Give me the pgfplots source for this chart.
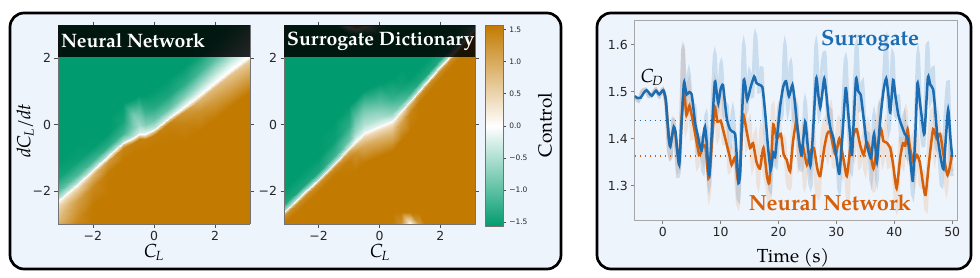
\documentclass[border=0pt]{standalone}
\usepackage{pgfplots}
\pgfplotsset{compat=1.18}
\usepackage{fontspec}
\setmainfont{TeX Gyre Pagella}
\newfontfamily\djs{DejaVu Sans}
\definecolor{boxbg}{RGB}{238,244,252}
\definecolor{cblue}{RGB}{28,108,178}
\definecolor{corange}{RGB}{214,96,10}
\pgfplotsset{colormap={gwb}{rgb255=(0,155,110) rgb255=(255,255,255) rgb255=(194,122,0)}}
\pgfplotsset{hm/.style={
  anchor=south west, scale only axis, width=192bp, height=199bp,
  view={0}{90},
  xmin=-3.14, xmax=3.14, ymin=-3, ymax=3,
  xtick={-2,0,2}, ytick={-2,0,2}, ztick=\empty,
  xticklabels={−2,0,2}, yticklabels={−2,0,2},
  tick label style={font=\djs\fontsize{12.5}{12.5}\selectfont, text=black!85},
  tick align=outside, major tick length=3.5bp,
  axis line style={black!55, line width=0.6bp},
  major tick style={black!70, line width=0.6bp},
  colormap name=gwb,
  point meta min=-1.5708, point meta max=1.5708,
  axis on top,
}}
\newcommand{\itsub}[2]{\textit{#1}\kern-0.05em\textsubscript{\textit{#2}}}
\begin{document}
\begin{tikzpicture}
\path[use as bounding box] (0,0) rectangle (980bp,-278bp);
\draw[line width=2.7bp, rounded corners=14bp, fill=boxbg] (10bp,-13bp) rectangle (561bp,-269bp);
\draw[line width=2.7bp, rounded corners=14bp, fill=boxbg] (597bp,-13bp) rectangle (971bp,-269bp);

% ---------- Neural Network heatmap ----------
\begin{axis}[hm, at={(58bp,-224bp)}]
\addplot3[surf, shader=interp, point meta=\thisrow{z}] table {
x y z
-3.14 -3 1.0
-3.14 -2.9 0.85
-3.14 -2.8 0.75
-3.14 -2.45 0.45
-3.14 -2.34 0.15
-3.14 -2.30 0
-3.14 -2.24 -0.35
-3.14 -2.0 -1.0
-3.14 -1.6 -1.45
-3.14 -1.1 -1.57
-3.14 3 -1.57

-2.5 -3 1.5
-2.5 -2.88 1.4
-2.5 -2.28 1.15
-2.5 -1.93 0.6
-2.5 -1.82 0.2
-2.5 -1.78 0
-2.5 -1.72 -0.4
-2.5 -1.48 -1.1
-2.5 -1.08 -1.5
-2.5 -0.58 -1.57
-2.5 3 -1.57

-2.0 -3 1.57
-2.0 -2.47 1.57
-2.0 -1.87 1.4
-2.0 -1.52 0.9
-2.0 -1.41 0.3
-2.0 -1.37 0
-2.0 -1.31 -0.45
-2.0 -1.07 -1.2
-2.0 -0.67 -1.55
-2.0 -0.17 -1.57
-2.0 3 -1.57

-1.5 -3 1.57
-1.5 -2.06 1.57
-1.5 -1.46 1.55
-1.5 -1.11 1.2
-1.5 -1.0 0.4
-1.5 -0.96 0
-1.5 -0.9 -0.5
-1.5 -0.66 -1.3
-1.5 -0.26 -1.57
-1.5 0.24 -1.57
-1.5 3 -1.57

-1.0 -3 1.57
-1.0 -1.66 1.57
-1.0 -1.06 1.57
-1.0 -0.71 1.45
-1.0 -0.6 0.6
-1.0 -0.56 0
-1.0 -0.5 -0.5
-1.0 -0.26 -1.2
-1.0 0.14 -1.45
-1.0 0.64 -1.57
-1.0 3 -1.57

-0.7 -3 1.57
-0.7 -1.52 1.57
-0.7 -0.92 1.57
-0.7 -0.57 1.5
-0.7 -0.46 0.7
-0.7 -0.42 0
-0.7 -0.36 -0.45
-0.7 -0.12 -0.8
-0.7 0.28 -0.85
-0.7 0.78 -1.57
-0.7 3 -1.57

-0.5 -3 1.57
-0.5 -1.4 1.57
-0.5 -0.8 1.57
-0.5 -0.45 1.5
-0.5 -0.34 0.7
-0.5 -0.30 0
-0.5 -0.24 -0.3
-0.5 0.0 -0.6
-0.5 0.4 -1.0
-0.5 0.9 -1.57
-0.5 3 -1.57

-0.3 -3 1.57
-0.3 -1.4 1.57
-0.3 -0.8 1.57
-0.3 -0.45 1.5
-0.3 -0.34 0.6
-0.3 -0.30 0
-0.3 -0.24 -0.25
-0.3 0.0 -0.75
-0.3 0.4 -1.25
-0.3 0.9 -1.57
-0.3 3 -1.57

0.0 -3 1.57
0.0 -1.27 1.57
0.0 -0.67 1.57
0.0 -0.32 1.5
0.0 -0.21 0.6
0.0 -0.17 0
0.0 -0.11 -0.35
0.0 0.13 -0.9
0.0 0.53 -1.35
0.0 1.03 -1.57
0.0 3 -1.57

0.5 -3 1.57
0.5 -0.9 1.57
0.5 -0.3 1.55
0.5 0.05 1.45
0.5 0.16 0.5
0.5 0.20 0
0.5 0.26 -0.3
0.5 0.5 -0.95
0.5 0.9 -1.4
0.5 1.4 -1.57
0.5 3 -1.57

1.0 -3 1.57
1.0 -0.55 1.57
1.0 0.05 1.45
1.0 0.4 1.2
1.0 0.51 0.4
1.0 0.55 0
1.0 0.61 -0.2
1.0 0.85 -0.75
1.0 1.25 -1.3
1.0 1.75 -1.57
1.0 3 -1.57

1.5 -3 1.57
1.5 -0.2 1.57
1.5 0.4 1.3
1.5 0.75 0.9
1.5 0.86 0.3
1.5 0.90 0
1.5 0.96 -0.12
1.5 1.2 -0.55
1.5 1.6 -1.15
1.5 2.1 -1.5
1.5 3 -1.57

2.0 -3 1.57
2.0 0.17 1.57
2.0 0.77 1.15
2.0 1.12 0.8
2.0 1.23 0.25
2.0 1.27 0
2.0 1.33 -0.1
2.0 1.57 -0.45
2.0 1.97 -1.0
2.0 2.47 -1.45
2.0 3 -1.57

2.5 -3 1.57
2.5 0.53 1.57
2.5 1.13 1.05
2.5 1.48 0.7
2.5 1.59 0.2
2.5 1.63 0
2.5 1.69 -0.08
2.5 1.93 -0.4
2.5 2.33 -0.9
2.5 2.83 -1.3
2.5 3 -1.45

3.14 -3 1.57
3.14 0.98 1.57
3.14 1.58 1.0
3.14 1.93 0.6
3.14 2.04 0.15
3.14 2.08 0
3.14 2.14 -0.05
3.14 2.38 -0.3
3.14 2.78 -0.7
3.14 2.95 -0.9
3.14 3 -1.0
};
\end{axis}

% ---------- Surrogate heatmap ----------
\begin{axis}[hm, at={(284bp,-224bp)}, width=191bp]
\addplot3[surf, shader=interp, point meta=\thisrow{z}] table {
x y z
-3.14 -3 1.57
-3.14 -2.99 1.57
-3.14 -2.98 1.57
-3.14 -2.97 1.57
-3.14 -2.77 1.35
-3.14 -2.68 0.6
-3.14 -2.65 0
-3.14 -2.6 -0.5
-3.14 -2.4 -1.4
-3.14 -1.95 -1.57
-3.14 -1.35 -1.57
-3.14 2.7 -1.57
-3.14 3 -1.57

-2.5 -3 1.57
-2.5 -2.8 1.57
-2.5 -2.75 1.57
-2.5 -2.45 1.57
-2.5 -2.22 1.35
-2.5 -2.13 0.6
-2.5 -2.10 0
-2.5 -2.05 -0.5
-2.5 -1.85 -1.4
-2.5 -1.4 -1.57
-2.5 -0.8 -1.57
-2.5 2.7 -1.57
-2.5 3 -1.57

-2.0 -3 1.57
-2.0 -2.65 1.57
-2.0 -2.55 1.57
-2.0 -2.0 1.57
-2.0 -1.77 1.35
-2.0 -1.68 0.6
-2.0 -1.65 0
-2.0 -1.6 -0.5
-2.0 -1.4 -1.4
-2.0 -0.95 -1.57
-2.0 -0.35 -1.57
-2.0 2.7 -1.57
-2.0 3 -1.57

-1.5 -3 1.57
-1.5 -2.65 1.57
-1.5 -2.1 1.57
-1.5 -1.55 1.57
-1.5 -1.32 1.35
-1.5 -1.23 0.55
-1.5 -1.2 0
-1.5 -1.15 -0.4
-1.5 -0.95 -1.2
-1.5 -0.5 -1.5
-1.5 0.1 -1.57
-1.5 2.7 -1.57
-1.5 3 -1.57

-1.0 -3 1.57
-1.0 -2.65 1.57
-1.0 -1.62 1.57
-1.0 -1.07 1.5
-1.0 -0.84 1.1
-1.0 -0.75 0.4
-1.0 -0.72 0
-1.0 -0.67 -0.3
-1.0 -0.47 -0.9
-1.0 -0.02 -1.3
-1.0 0.58 -1.57
-1.0 2.7 -1.57
-1.0 3 0.5

-0.8 -3 1.57
-0.8 -2.65 1.57
-0.8 -1.42 1.57
-0.8 -0.87 1.3
-0.8 -0.64 0.8
-0.8 -0.55 0.25
-0.8 -0.52 0
-0.8 -0.47 -0.2
-0.8 -0.27 -0.6
-0.8 0.18 -0.95
-0.8 0.78 -1.57
-0.8 2.7 -1.57
-0.8 3 1.3

-0.5 -3 1.57
-0.5 -2.65 1.57
-0.5 -1.17 1.57
-0.5 -0.62 1.0
-0.5 -0.39 0.5
-0.5 -0.3 0.15
-0.5 -0.27 0
-0.5 -0.22 -0.15
-0.5 -0.02 -0.45
-0.5 0.43 -0.85
-0.5 1.03 -1.57
-0.5 2.7 -1.57
-0.5 3 0.3

0.0 -3 1.57
0.0 -2.65 1.57
0.0 -0.95 1.57
0.0 -0.4 0.9
0.0 -0.17 0.45
0.0 -0.08 0.12
0.0 -0.05 0
0.0 0.0 -0.15
0.0 0.2 -0.5
0.0 0.65 -1.0
0.0 1.25 -1.57
0.0 2.7 -1.57
0.0 3 -1.2

0.4 -3 1.57
0.4 -2.65 1.57
0.4 -0.8 1.57
0.4 -0.25 0.85
0.4 -0.02 0.45
0.4 0.07 0.12
0.4 0.1 0
0.4 0.15 -0.2
0.4 0.35 -0.7
0.4 0.8 -1.25
0.4 1.4 -1.57
0.4 2.7 -1.57
0.4 3 -1.57

0.7 -3 1.3
0.7 -2.65 1.57
0.7 -0.5 1.57
0.7 0.05 1.1
0.7 0.28 0.6
0.7 0.37 0.2
0.7 0.4 0
0.7 0.45 -0.3
0.7 0.65 -1.0
0.7 1.1 -1.45
0.7 1.7 -1.57
0.7 2.7 -1.57
0.7 3 -1.57

1.0 -3 0.05
1.0 -2.65 1.57
1.0 -0.2 1.57
1.0 0.35 1.45
1.0 0.58 1.0
1.0 0.67 0.35
1.0 0.7 0
1.0 0.75 -0.4
1.0 0.95 -1.25
1.0 1.4 -1.57
1.0 2.0 -1.57
1.0 2.7 -1.57
1.0 3 -1.57

1.3 -3 1.2
1.3 -2.65 1.57
1.3 0.12 1.57
1.3 0.67 1.57
1.3 0.9 1.3
1.3 0.99 0.5
1.3 1.02 0
1.3 1.07 -0.5
1.3 1.27 -1.4
1.3 1.72 -1.57
1.3 2.32 -1.57
1.3 2.7 -1.57
1.3 3 -1.57

1.5 -3 1.57
1.5 -2.65 1.57
1.5 0.32 1.57
1.5 0.87 1.57
1.5 1.1 1.35
1.5 1.19 0.6
1.5 1.22 0
1.5 1.27 -0.5
1.5 1.47 -1.4
1.5 1.92 -1.57
1.5 2.52 -1.57
1.5 2.7 -1.57
1.5 3 -1.57

2.0 -3 1.57
2.0 -2.65 1.57
2.0 0.83 1.57
2.0 1.38 1.57
2.0 1.61 1.35
2.0 1.7 0.6
2.0 1.73 0
2.0 1.78 -0.5
2.0 1.98 -1.4
2.0 2.43 -1.57
2.0 2.8 -1.57
2.0 2.9 -1.57
2.0 3 -1.57

2.5 -3 1.57
2.5 -2.65 1.57
2.5 1.35 1.57
2.5 1.9 1.57
2.5 2.13 1.35
2.5 2.22 0.6
2.5 2.25 0
2.5 2.3 -0.5
2.5 2.5 -1.4
2.5 2.85 -1.5
2.5 2.9 -1.5
2.5 2.95 -1.5
2.5 3 -1.5

3.14 -3 1.57
3.14 -2.65 1.57
3.14 2.0 1.57
3.14 2.55 1.57
3.14 2.78 1.35
3.14 2.87 0.6
3.14 2.9 0
3.14 2.93 -0.3
3.14 2.95 -0.5
3.14 2.97 -0.7
3.14 2.98 -0.8
3.14 2.99 -0.9
3.14 3 -1.0
};
\end{axis}

% ---------- colour bar ----------
\begin{axis}[at={(485.7bp,-226.7bp)}, anchor=south west, scale only axis,
  width=17.6bp, height=201.7bp, xmin=0, xmax=1, ymin=-1.5708, ymax=1.5708,
  xtick=\empty, ytick={-1.5,-1,-0.5,0,0.5,1,1.5},
  yticklabels={−1.5,−1.0,−0.5,0.0,0.5,1.0,1.5},
  ytick pos=right, yticklabel pos=right, tick align=outside, major tick length=2.5bp,
  tick label style={font=\djs\fontsize{7.5}{7.5}\selectfont, text=black!85},
  axis line style={black!55, line width=0.5bp}, major tick style={black!70, line width=0.5bp},
  colormap name=gwb, point meta min=-1.5708, point meta max=1.5708, axis on top]
\addplot[patch, shader=interp, point meta=explicit] coordinates {
(0,-1.5708) [-1.5708] (1,-1.5708) [-1.5708] (1,0) [0]
(0,-1.5708) [-1.5708] (1,0) [0] (0,0) [0]
(0,0) [0] (1,0) [0] (1,1.5708) [1.5708]
(0,0) [0] (1,1.5708) [1.5708] (0,1.5708) [1.5708]
};
\end{axis}

% title bars and labels of the left panel
\fill[black, opacity=0.85] (58bp,-25bp) rectangle (250bp,-56.7bp);
\fill[black, opacity=0.85] (284bp,-25bp) rectangle (475bp,-56.7bp);
\node[anchor=west, text=white, font=\bfseries\fontsize{19.5}{19.5}\selectfont, inner sep=0pt] at (61bp,-41bp) {Neural Network};
\node[anchor=west, text=white, font=\bfseries\fontsize{19.5}{19.5}\selectfont, inner sep=0pt] at (287bp,-41bp) {Surrogate Dictionary};
\node[rotate=90, font=\fontsize{19}{19}\selectfont] at (25bp,-131bp) {\itsub{dC}{L}\textit{/dt}};
\node[font=\fontsize{19}{19}\selectfont] at (154bp,-252bp) {\itsub{C}{L}};
\node[font=\fontsize{19}{19}\selectfont] at (380bp,-252bp) {\itsub{C}{L}};
\node[rotate=90, font=\fontsize{19}{19}\selectfont] at (545bp,-125bp) {Control};

% ---------- time series ----------
\begin{axis}[at={(634.7bp,-220.7bp)}, anchor=south west, scale only axis,
  width=322.6bp, height=200bp,
  xmin=-4.84, xmax=50.88, ymin=1.225, ymax=1.651,
  xtick={0,10,20,30,40,50}, xticklabels={0,10,20,30,40,50},
  ytick={1.3,1.4,1.5,1.6}, yticklabels={1.3,1.4,1.5,1.6},
  tick label style={font=\djs\fontsize{12.5}{12.5}\selectfont, text=black!85},
  tick align=outside, tick pos=left, major tick length=3.5bp,
  axis line style={black!35, line width=0.8bp},
  major tick style={black!50, line width=0.6bp}]
% faint raw signals
\addplot[cblue, opacity=0.17, line width=3.5bp, smooth, tension=0.4] coordinates {
(-4.84,1.49) (-4.2,1.48) (-3.6,1.50) (-3.0,1.505) (-2.4,1.49) (-1.8,1.495) (-1.2,1.505) (-0.6,1.49) (0.0,1.505)
(0.6,1.47) (1.0,1.38) (1.4,1.36) (1.8,1.44) (2.2,1.40) (2.6,1.32) (3.0,1.36) (3.5,1.59) (4.0,1.47) (4.5,1.54)
(5.0,1.46) (5.5,1.47) (6.0,1.37) (6.5,1.40) (7.0,1.33) (7.5,1.45) (8.0,1.30) (8.5,1.45) (9.0,1.58) (9.5,1.46)
(10.1,1.56) (10.6,1.45) (11.1,1.47) (11.6,1.38) (12.1,1.46) (12.6,1.37) (13.1,1.27) (13.6,1.45) (14.0,1.60)
(14.5,1.46) (15.0,1.54) (15.5,1.49) (16.0,1.62) (16.6,1.50) (17.1,1.55) (17.6,1.42) (18.1,1.36) (18.6,1.29)
(19.1,1.40) (19.6,1.34) (20.1,1.47) (20.6,1.45) (21.1,1.60) (21.6,1.46) (22.1,1.56) (22.6,1.44) (23.1,1.47)
(23.6,1.35) (24.1,1.34) (24.6,1.48) (25.1,1.35) (25.6,1.30) (26.1,1.45) (26.5,1.60) (27.0,1.45) (27.5,1.55)
(28.0,1.58) (28.5,1.44) (29.0,1.46) (29.5,1.37) (30.0,1.38) (30.5,1.29) (31.0,1.43) (31.6,1.57) (32.1,1.42)
(32.6,1.33) (33.0,1.47) (33.5,1.60) (34.0,1.46) (34.5,1.52) (35.0,1.40) (35.5,1.41) (36.0,1.31) (36.5,1.45)
(37.0,1.31) (37.5,1.47) (38.0,1.49) (38.6,1.61) (39.1,1.42) (39.7,1.58) (40.2,1.45) (40.7,1.49) (41.2,1.39)
(41.7,1.45) (42.2,1.36) (42.7,1.38) (43.2,1.28) (43.7,1.45) (44.1,1.58) (44.6,1.43) (45.1,1.39) (45.7,1.60)
(46.2,1.48) (46.7,1.55) (47.2,1.39) (47.7,1.37) (48.2,1.30) (48.7,1.43) (49.3,1.52) (49.7,1.35) (50.0,1.32)
};
\addplot[corange, opacity=0.12, line width=3.5bp, smooth, tension=0.4] coordinates {
(-4.84,1.49) (-4.2,1.48) (-3.6,1.50) (-3.0,1.505) (-2.4,1.49) (-1.8,1.495) (-1.2,1.505) (-0.6,1.49)
(0.0,1.505) (0.6,1.47) (1.0,1.38) (1.4,1.36) (1.8,1.44) (2.2,1.39) (2.6,1.33) (3.0,1.37) (3.5,1.59) (4.0,1.42)
(4.5,1.52) (5.0,1.40) (5.5,1.45) (6.0,1.34) (6.5,1.40) (7.0,1.35) (7.5,1.42) (8.0,1.28) (8.5,1.40) (9.0,1.52)
(9.5,1.40) (10.0,1.50) (10.5,1.39) (11.0,1.43) (11.5,1.33) (12.0,1.38) (12.5,1.34) (13.0,1.26) (13.5,1.38)
(14.0,1.50) (14.5,1.38) (15.0,1.44) (15.5,1.34) (16.0,1.41) (16.5,1.30) (17.0,1.42) (17.5,1.33) (18.0,1.30)
(18.5,1.27) (19.0,1.47) (19.5,1.36) (20.0,1.45) (20.5,1.38) (21.0,1.40) (21.5,1.31) (22.0,1.30) (22.5,1.43)
(23.0,1.48) (23.5,1.34) (24.0,1.42) (24.5,1.30) (25.0,1.41) (25.5,1.33) (26.0,1.43) (26.5,1.30) (27.0,1.28)
(27.5,1.40) (28.0,1.44) (28.5,1.36) (29.0,1.47) (29.5,1.34) (30.0,1.40) (30.5,1.44) (31.0,1.32) (31.5,1.35)
(32.0,1.27) (32.5,1.42) (33.0,1.36) (33.5,1.46) (34.0,1.34) (34.5,1.40) (35.0,1.33) (35.5,1.43) (36.0,1.35)
(36.5,1.29) (37.0,1.42) (37.5,1.47) (38.0,1.35) (38.5,1.43) (39.0,1.34) (39.5,1.38) (40.0,1.30) (40.5,1.25)
(41.0,1.40) (41.5,1.34) (42.0,1.46) (42.5,1.35) (43.0,1.40) (43.5,1.31) (44.0,1.40) (44.5,1.30) (45.0,1.33)
(45.5,1.25) (46.0,1.40) (46.5,1.46) (47.0,1.36) (47.5,1.45) (48.0,1.37) (48.5,1.40) (49.0,1.29) (49.5,1.38)
(50.0,1.33)
};
% mean lines
\addplot[cblue, line width=1.6bp, dash pattern=on 1.6bp off 3.4bp] coordinates {(-4.84,1.4385) (50.88,1.4385)};
\addplot[corange, line width=1.6bp, dash pattern=on 1.6bp off 3.4bp] coordinates {(-4.84,1.363) (50.88,1.363)};
% neural network (orange)
\addplot[corange, line width=2.5bp, smooth, tension=0.35] coordinates {
(0.1,1.503) (0.5,1.485) (0.8,1.44) (1.1,1.395) (1.3,1.385) (1.6,1.405) (1.9,1.42) (2.2,1.41) (2.5,1.375)
(2.85,1.35) (3.2,1.43) (3.6,1.50) (3.8,1.49) (4.1,1.45) (4.6,1.47) (5.0,1.45) (5.3,1.43) (5.9,1.39) (6.3,1.365)
(6.6,1.37) (7.0,1.386) (7.4,1.38) (7.9,1.315) (8.2,1.34) (8.6,1.41) (9.0,1.468) (9.45,1.436) (10.0,1.438)
(10.4,1.42) (10.8,1.40) (11.5,1.365) (11.9,1.344) (12.5,1.36) (13.0,1.31) (13.4,1.35) (13.9,1.45) (14.5,1.415)
(15.1,1.38) (15.6,1.39) (16.2,1.35) (16.8,1.336) (17.4,1.38) (18.0,1.32) (18.4,1.305) (18.8,1.37) (19.1,1.43)
(19.7,1.40) (20.4,1.41) (20.9,1.365) (21.4,1.355) (22.0,1.33) (22.5,1.393) (23.1,1.436) (23.7,1.38) (24.2,1.385)
(24.9,1.344) (25.5,1.372) (26.1,1.38) (26.7,1.336) (27.2,1.32) (27.9,1.38) (28.4,1.41) (28.9,1.415) (29.4,1.386)
(29.9,1.365) (30.5,1.40) (31.2,1.358) (31.8,1.32) (32.4,1.38) (33.0,1.41) (33.5,1.42) (34.1,1.386) (34.7,1.365)
(35.2,1.393) (35.7,1.38) (36.4,1.336) (37.0,1.38) (37.7,1.42) (38.1,1.395) (38.6,1.392) (39.3,1.38) (39.8,1.344)
(40.4,1.294) (41.0,1.358) (41.5,1.39) (41.9,1.385) (42.3,1.42) (42.7,1.38) (43.3,1.35) (43.9,1.365) (44.4,1.35)
(45.0,1.30) (45.4,1.28) (46.0,1.35) (46.7,1.42) (47.3,1.40) (47.9,1.41) (48.5,1.365) (49.2,1.322) (49.9,1.36)
};
% surrogate (blue)
\addplot[cblue, line width=2.5bp, smooth, tension=0.35] coordinates {
(-4.84,1.490) (-4.3,1.486) (-3.8,1.487) (-3.3,1.497) (-2.8,1.503) (-2.3,1.496) (-1.9,1.491) (-1.5,1.497)
(-1.15,1.502) (-0.6,1.494) (0.1,1.503) (0.5,1.485) (0.8,1.44) (1.1,1.395) (1.3,1.383) (1.6,1.405) (1.9,1.425)
(2.2,1.415) (2.5,1.375) (2.85,1.344) (3.2,1.42) (3.65,1.518) (3.9,1.508) (4.15,1.494) (4.6,1.499) (5.0,1.494)
(5.3,1.465) (5.6,1.432) (6.0,1.41) (6.4,1.385) (6.7,1.375) (7.0,1.405) (7.3,1.425) (7.6,1.39) (7.9,1.33)
(8.1,1.325) (8.5,1.42) (9.0,1.521) (9.3,1.50) (9.6,1.475) (10.0,1.505) (10.4,1.514) (10.8,1.47) (11.1,1.44)
(11.6,1.42) (12.0,1.415) (12.5,1.41) (12.8,1.36) (13.1,1.305) (13.4,1.33) (13.7,1.45) (14.0,1.525) (14.3,1.51)
(14.6,1.482) (15.2,1.51) (15.8,1.532) (16.2,1.518) (16.6,1.515) (17.2,1.51) (17.5,1.48) (17.8,1.44) (18.2,1.38)
(18.65,1.333) (19.1,1.37) (19.4,1.36) (19.8,1.41) (20.3,1.47) (20.8,1.51) (21.3,1.522) (21.8,1.49) (22.4,1.514)
(22.8,1.48) (23.2,1.43) (23.6,1.39) (24.0,1.365) (24.6,1.436) (25.0,1.39) (25.5,1.342) (25.9,1.40) (26.5,1.528)
(26.9,1.49) (27.2,1.466) (27.5,1.49) (27.9,1.528) (28.3,1.49) (28.6,1.45) (29.0,1.42) (29.5,1.40) (30.0,1.36)
(30.5,1.325) (31.0,1.40) (31.6,1.507) (32.0,1.46) (32.4,1.40) (32.7,1.365) (33.0,1.44) (33.4,1.528) (33.8,1.50)
(34.2,1.493) (34.7,1.443) (35.2,1.39) (35.6,1.37) (36.0,1.358) (36.5,1.41) (37.0,1.35) (37.5,1.43) (38.1,1.50)
(38.6,1.528) (39.0,1.49) (39.3,1.455) (39.8,1.525) (40.2,1.49) (40.7,1.45) (41.2,1.43) (41.8,1.41) (42.3,1.40)
(42.8,1.35) (43.2,1.31) (43.6,1.40) (44.0,1.518) (44.4,1.48) (44.7,1.45) (45.2,1.41) (45.8,1.530) (46.2,1.515)
(46.7,1.505) (47.0,1.47) (47.4,1.41) (48.0,1.36) (48.5,1.335) (48.9,1.40) (49.3,1.462) (49.7,1.40) (50.0,1.36)
};
\end{axis}
\node[font=\bfseries\fontsize{22}{22}\selectfont, text=cblue] at (870bp,-41bp) {Surrogate};
\node[font=\bfseries\fontsize{22}{22}\selectfont, text=corange] at (830bp,-203bp) {Neural Network};
\node[font=\fontsize{19}{19}\selectfont] at (652bp,-77bp) {\itsub{C}{D}};
\node[font=\fontsize{19}{19}\selectfont] at (793bp,-258bp) {Time (s)};
\end{tikzpicture}
\end{document}
